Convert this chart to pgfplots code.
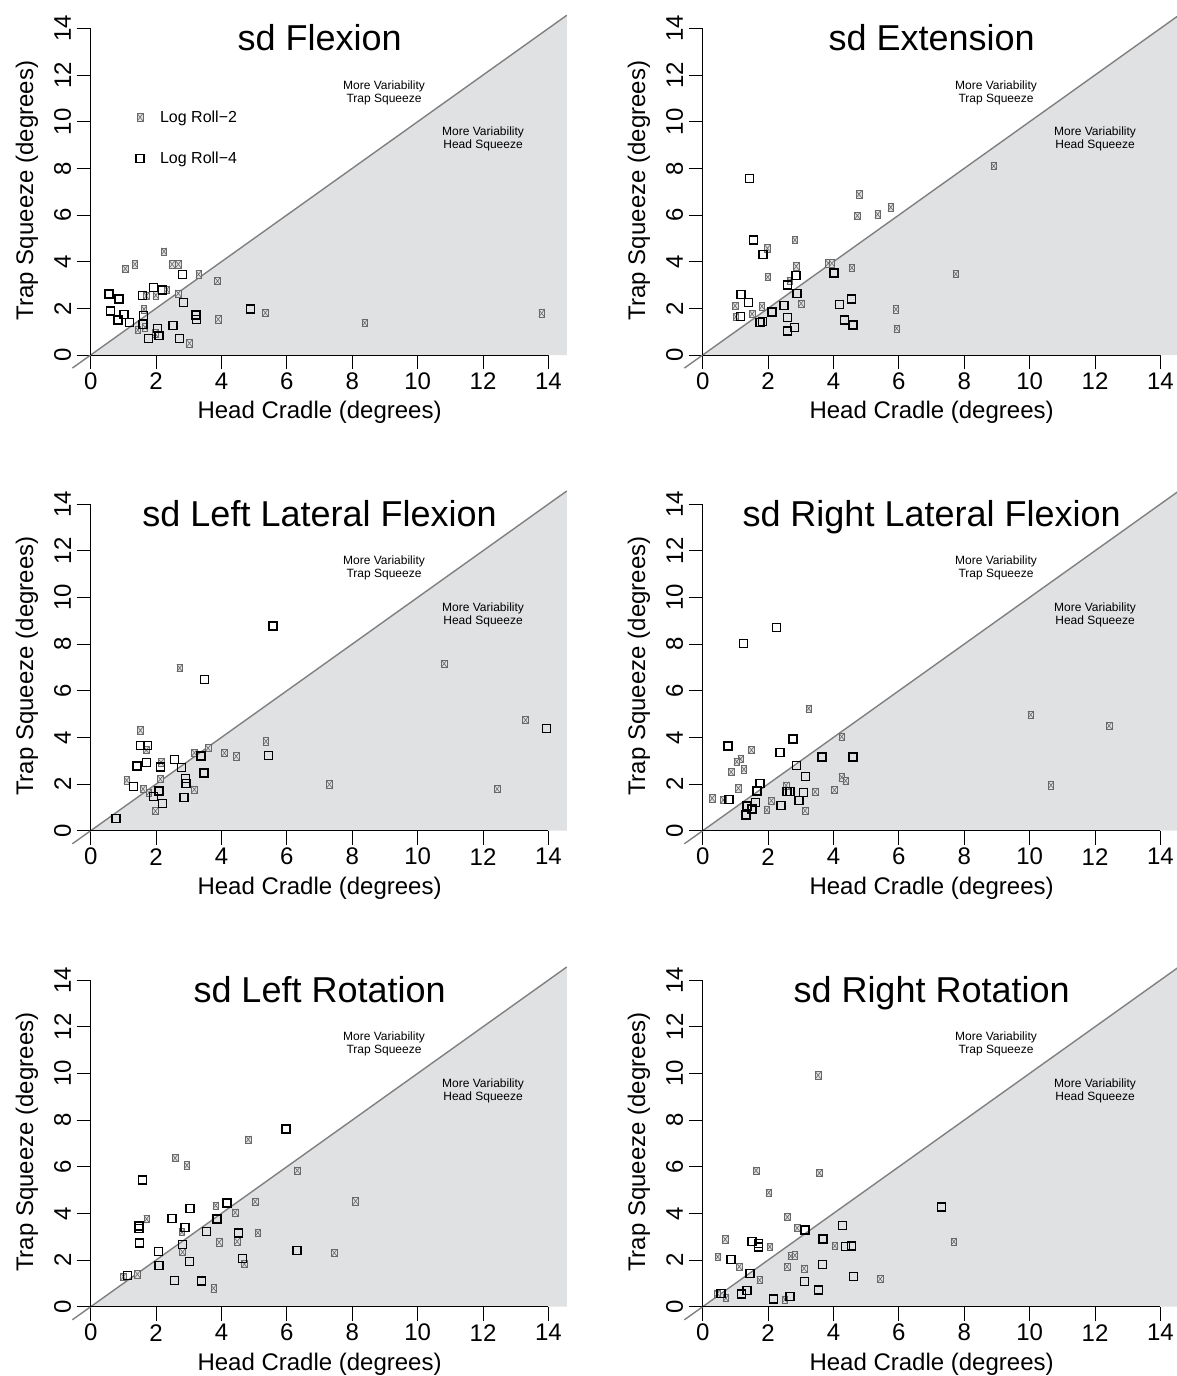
\documentclass[border=0pt]{standalone}
\usepackage{fontspec}
\setmainfont{Liberation Sans}
\usepackage{pgfplots}
\pgfplotsset{compat=1.18}

\definecolor{shade}{RGB}{224,225,227}
\definecolor{diag}{RGB}{128,128,128}
\definecolor{lrtwo}{RGB}{105,105,105}
\definecolor{lrtwofill}{RGB}{225,225,225}

% small box with a cross (R pch 7 look)
\pgfdeclareplotmark{boxx}{%
  \pgfpathrectangle{\pgfqpoint{-2.8pt}{-3.6pt}}{\pgfqpoint{5.6pt}{7.2pt}}%
  \pgfusepathqfillstroke
  \pgfpathmoveto{\pgfqpoint{-2.8pt}{-3.6pt}}\pgfpathlineto{\pgfqpoint{2.8pt}{3.6pt}}%
  \pgfpathmoveto{\pgfqpoint{-2.8pt}{3.6pt}}\pgfpathlineto{\pgfqpoint{2.8pt}{-3.6pt}}%
  \pgfusepathqstroke}

\pgfplotsset{
  panel/.style={
    scale only axis, width=494.4pt, height=352.8pt,
    xmin=-0.56, xmax=14.56, ymin=-0.56, ymax=14.56,
    axis lines=middle, axis line style={draw=none},
    hide obscured x ticks=false, hide obscured y ticks=false,
    xtick={0,2,...,14}, ytick={0,2,...,14},
    tick align=outside, major tick length=14pt,
    tick style={black, line width=1pt},
    ticklabel style={font=\fontsize{24}{24}\selectfont},
    xticklabel style={anchor=center, yshift=-12pt},
    yticklabel style={xshift=-14pt, rotate=90, anchor=center},
    /pgf/number format/assume math mode=true,
    clip=false, anchor=origin,
  },
  lr2/.style={only marks, mark=boxx, mark options={draw=lrtwo, fill=lrtwofill, line width=0.6pt}},
  lr4/.style={only marks, mark=square, mark size=4pt, mark options={draw=black, line width=1.5pt, fill=none}},
}

\newcommand{\common}[1]{%
  \addplot[fill=shade, draw=none, forget plot] coordinates {(0,0)(14.56,14.56)(14.56,0)(0,0)};
  \addplot[diag, line width=1.4pt, forget plot] coordinates {(-0.56,-0.56)(14.56,14.56)};
  \draw[black, line width=1pt] (axis cs:0,0) -- (axis cs:14,0);
  \draw[black, line width=1pt] (axis cs:0,0) -- (axis cs:0,14);
  \node[font=\fontsize{36}{36}\selectfont, anchor=base] at (axis cs:7,13.03) {#1};
  \node[font=\fontsize{24}{24}\selectfont, anchor=base] at (axis cs:7,-2.74) {Head Cradle (degrees)};
  \node[font=\fontsize{24}{24}\selectfont, anchor=base, rotate=90] at (axis cs:-1.76,7.05) {Trap Squeeze (degrees)};
  \node[font=\fontsize{12}{13}\selectfont, align=center] at (axis cs:8.97,11.25) {More Variability\\Trap Squeeze};
  \node[font=\fontsize{12}{13}\selectfont, align=center] at (axis cs:12.0,9.26) {More Variability\\Head Squeeze};
}

\begin{document}
\begin{tikzpicture}
\path[use as bounding box] (0,0) rectangle (1176pt,-1376pt);

% ---- sd Flexion
\begin{axis}[panel, at={(90.7pt,-355pt)},
  legend style={at={(axis cs:1.29,10.65)}, anchor=north west, draw=none, fill=none,
    font=\fontsize{16}{16}\selectfont, row sep=24pt, column sep=14pt},
  legend cell align=left]
\common{sd Flexion}
\addplot[lr2] coordinates {(2.24,4.44)(1.06,3.70)(1.35,3.89)(2.49,3.89)(2.68,3.89)(3.30,3.46)(3.88,3.17)(2.33,2.80)(2.68,2.64)(1.70,2.53)(1.99,2.56)(1.63,1.96)(5.34,1.81)(3.90,1.53)(1.44,1.07)(1.66,1.19)(1.97,0.93)(3.02,0.50)(8.38,1.38)(13.79,1.79)};
\addlegendentry{Log Roll−2}
\addplot[lr4] coordinates {(2.81,3.46)(1.92,2.90)(2.19,2.79)(0.56,2.61)(0.87,2.41)(1.58,2.56)(2.84,2.24)(0.60,1.89)(1.02,1.74)(1.61,1.70)(0.84,1.49)(1.18,1.40)(1.60,1.31)(3.22,1.71)(3.23,1.53)(4.88,1.97)(2.52,1.26)(2.05,1.14)(2.09,0.84)(1.77,0.70)(2.71,0.70)};
\addlegendentry{Log Roll−4}
\end{axis}

% ---- sd Extension
\begin{axis}[panel, at={(702.7pt,-355pt)}]
\common{sd Extension}
\addplot[lr2] coordinates {(4.78,6.89)(4.73,5.97)(5.35,6.03)(5.75,6.33)(2.82,4.93)(1.98,4.57)(2.86,3.80)(1.99,3.34)(4.56,3.74)(3.84,3.93)(3.95,3.93)(2.66,3.19)(3.01,2.21)(0.99,2.11)(1.81,2.09)(1.51,1.76)(1.01,1.64)(5.91,1.96)(5.93,1.14)(8.90,8.10)(7.74,3.47)};
\addplot[lr4] coordinates {(1.43,7.57)(1.55,4.93)(1.85,4.30)(2.85,3.40)(4.02,3.51)(2.60,2.99)(2.88,2.64)(1.17,2.59)(1.40,2.26)(2.49,2.13)(2.12,1.84)(1.16,1.64)(1.83,1.43)(1.75,1.40)(2.60,1.60)(2.59,1.03)(2.80,1.17)(4.18,2.16)(4.55,2.39)(4.33,1.51)(4.59,1.29)};
\end{axis}

% ---- sd Left Lateral Flexion
\begin{axis}[panel, at={(90.7pt,-830.7pt)}]
\common{sd Left Lateral Flexion}
\addplot[lr2] coordinates {(2.72,6.97)(1.52,4.30)(1.70,3.46)(2.15,2.93)(2.13,2.21)(3.17,3.34)(3.59,3.54)(4.09,3.33)(4.45,3.19)(5.36,3.83)(1.10,2.16)(1.60,1.79)(1.78,1.63)(3.17,1.77)(1.98,0.84)(7.30,1.99)(10.81,7.16)(13.30,4.74)(12.43,1.79)};
\addplot[lr4] coordinates {(5.58,8.77)(3.48,6.49)(1.53,3.66)(1.73,3.66)(1.42,2.78)(1.71,2.93)(2.14,2.73)(2.56,3.06)(2.77,2.70)(3.38,3.21)(5.44,3.23)(3.47,2.47)(2.90,2.24)(2.92,2.03)(1.31,1.90)(2.09,1.70)(1.92,1.46)(2.20,1.17)(2.85,1.42)(0.78,0.53)(13.94,4.39)};
\end{axis}

% ---- sd Right Lateral Flexion
\begin{axis}[panel, at={(702.7pt,-830.7pt)}]
\common{sd Right Lateral Flexion}
\addplot[lr2] coordinates {(3.24,5.24)(4.25,4.03)(1.49,3.46)(1.16,3.07)(1.04,2.96)(0.87,2.52)(1.26,2.63)(1.09,1.82)(0.29,1.39)(0.63,1.32)(2.55,1.94)(4.25,2.29)(4.37,2.14)(3.44,1.67)(4.03,1.74)(2.10,1.29)(1.96,0.89)(3.13,0.86)(10.03,4.97)(12.43,4.50)(10.65,1.95)};
\addplot[lr4] coordinates {(2.25,8.70)(1.25,8.03)(0.77,3.64)(2.76,3.93)(2.36,3.36)(3.65,3.16)(4.59,3.16)(2.87,2.80)(3.14,2.33)(1.75,2.03)(1.66,1.70)(2.58,1.69)(2.67,1.69)(3.09,1.64)(0.80,1.33)(1.61,1.20)(1.36,1.06)(1.50,0.94)(1.33,0.67)(2.40,1.07)(2.94,1.29)};
\end{axis}

% ---- sd Left Rotation
\begin{axis}[panel, at={(90.7pt,-1306.7pt)}]
\common{sd Left Rotation}
\addplot[lr2] coordinates {(4.82,7.17)(2.58,6.37)(2.94,6.06)(6.32,5.84)(5.03,4.50)(4.42,4.04)(3.82,4.34)(1.71,3.76)(2.79,3.20)(2.81,2.34)(3.93,2.76)(4.48,2.80)(5.11,3.17)(1.00,1.29)(1.43,1.39)(3.76,0.79)(4.70,1.83)(7.45,2.31)(8.10,4.52)};
\addplot[lr4] coordinates {(5.97,7.62)(1.59,5.43)(4.17,4.44)(3.04,4.20)(3.86,3.77)(2.49,3.79)(1.47,3.47)(1.47,3.36)(2.89,3.40)(3.54,3.23)(4.52,3.16)(1.49,2.74)(2.80,2.67)(2.07,2.37)(2.09,1.77)(3.02,1.93)(4.64,2.06)(6.31,2.41)(1.13,1.34)(2.57,1.13)(3.39,1.10)};
\end{axis}

% ---- sd Right Rotation
\begin{axis}[panel, at={(702.7pt,-1306.7pt)}]
\common{sd Right Rotation}
\addplot[lr2] coordinates {(1.63,5.84)(3.57,5.73)(2.02,4.89)(2.59,3.84)(2.89,3.37)(0.69,2.89)(2.05,2.57)(4.04,2.61)(0.46,2.14)(1.12,1.72)(2.69,2.17)(2.82,2.20)(2.58,1.72)(3.10,1.64)(1.74,1.14)(5.43,1.19)(0.71,0.37)(2.51,0.31)(0.45,0.57)(3.53,9.92)(7.68,2.79)};
\addplot[lr4] coordinates {(3.13,3.29)(4.27,3.49)(3.68,2.91)(1.50,2.80)(1.71,2.71)(1.71,2.56)(4.37,2.59)(4.55,2.61)(0.87,2.02)(3.66,1.82)(1.44,1.42)(4.61,1.29)(3.11,1.09)(0.56,0.57)(1.35,0.69)(1.19,0.54)(3.54,0.71)(2.16,0.34)(2.67,0.44)(7.30,4.27)};
\end{axis}
\end{tikzpicture}
\end{document}
